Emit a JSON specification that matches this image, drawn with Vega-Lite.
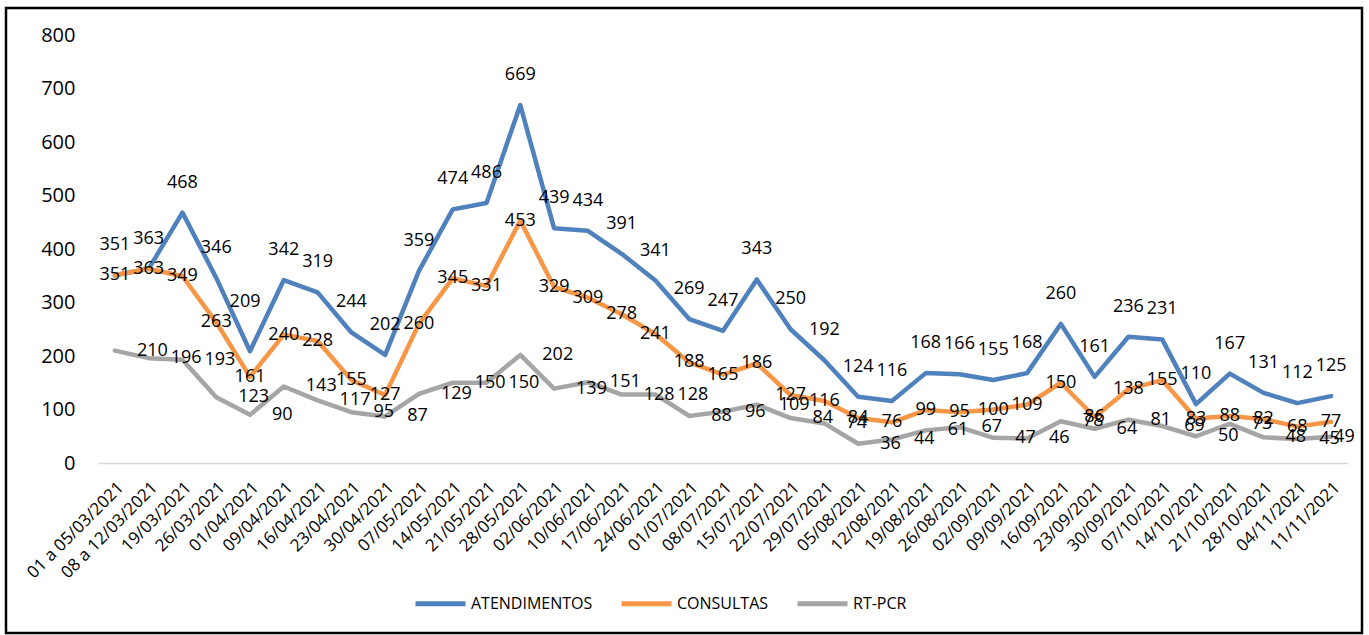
{
  "$schema": "https://vega.github.io/schema/vega-lite/v6.json",
  "autosize": "none",
  "padding": {"left": 6, "top": 8, "right": 7, "bottom": 2},
  "width": 1356,
  "height": 625,
  "background": "white",
  "config": {
    "font": "Open Sans",
    "view": {"stroke": "#000000", "strokeWidth": 2.5},
    "axis": {"grid": false}
  },
  "data": {
    "values": [
      {"d": "01 a 05/03/2021", "s": "ATENDIMENTOS", "v": 351},
      {"d": "08 a 12/03/2021", "s": "ATENDIMENTOS", "v": 363},
      {"d": "19/03/2021", "s": "ATENDIMENTOS", "v": 468},
      {"d": "26/03/2021", "s": "ATENDIMENTOS", "v": 346},
      {"d": "01/04/2021", "s": "ATENDIMENTOS", "v": 209},
      {"d": "09/04/2021", "s": "ATENDIMENTOS", "v": 342},
      {"d": "16/04/2021", "s": "ATENDIMENTOS", "v": 319},
      {"d": "23/04/2021", "s": "ATENDIMENTOS", "v": 244},
      {"d": "30/04/2021", "s": "ATENDIMENTOS", "v": 202},
      {"d": "07/05/2021", "s": "ATENDIMENTOS", "v": 359},
      {"d": "14/05/2021", "s": "ATENDIMENTOS", "v": 474},
      {"d": "21/05/2021", "s": "ATENDIMENTOS", "v": 486},
      {"d": "28/05/2021", "s": "ATENDIMENTOS", "v": 669},
      {"d": "02/06/2021", "s": "ATENDIMENTOS", "v": 439},
      {"d": "10/06/2021", "s": "ATENDIMENTOS", "v": 434},
      {"d": "17/06/2021", "s": "ATENDIMENTOS", "v": 391},
      {"d": "24/06/2021", "s": "ATENDIMENTOS", "v": 341},
      {"d": "01/07/2021", "s": "ATENDIMENTOS", "v": 269},
      {"d": "08/07/2021", "s": "ATENDIMENTOS", "v": 247},
      {"d": "15/07/2021", "s": "ATENDIMENTOS", "v": 343},
      {"d": "22/07/2021", "s": "ATENDIMENTOS", "v": 250},
      {"d": "29/07/2021", "s": "ATENDIMENTOS", "v": 192},
      {"d": "05/08/2021", "s": "ATENDIMENTOS", "v": 124},
      {"d": "12/08/2021", "s": "ATENDIMENTOS", "v": 116},
      {"d": "19/08/2021", "s": "ATENDIMENTOS", "v": 168},
      {"d": "26/08/2021", "s": "ATENDIMENTOS", "v": 166},
      {"d": "02/09/2021", "s": "ATENDIMENTOS", "v": 155},
      {"d": "09/09/2021", "s": "ATENDIMENTOS", "v": 168},
      {"d": "16/09/2021", "s": "ATENDIMENTOS", "v": 260},
      {"d": "23/09/2021", "s": "ATENDIMENTOS", "v": 161},
      {"d": "30/09/2021", "s": "ATENDIMENTOS", "v": 236},
      {"d": "07/10/2021", "s": "ATENDIMENTOS", "v": 231},
      {"d": "14/10/2021", "s": "ATENDIMENTOS", "v": 110},
      {"d": "21/10/2021", "s": "ATENDIMENTOS", "v": 167},
      {"d": "28/10/2021", "s": "ATENDIMENTOS", "v": 131},
      {"d": "04/11/2021", "s": "ATENDIMENTOS", "v": 112},
      {"d": "11/11/2021", "s": "ATENDIMENTOS", "v": 125},
      {"d": "01 a 05/03/2021", "s": "CONSULTAS", "v": 351},
      {"d": "08 a 12/03/2021", "s": "CONSULTAS", "v": 363},
      {"d": "19/03/2021", "s": "CONSULTAS", "v": 349},
      {"d": "26/03/2021", "s": "CONSULTAS", "v": 263},
      {"d": "01/04/2021", "s": "CONSULTAS", "v": 161},
      {"d": "09/04/2021", "s": "CONSULTAS", "v": 240},
      {"d": "16/04/2021", "s": "CONSULTAS", "v": 228},
      {"d": "23/04/2021", "s": "CONSULTAS", "v": 155},
      {"d": "30/04/2021", "s": "CONSULTAS", "v": 127},
      {"d": "07/05/2021", "s": "CONSULTAS", "v": 260},
      {"d": "14/05/2021", "s": "CONSULTAS", "v": 345},
      {"d": "21/05/2021", "s": "CONSULTAS", "v": 331},
      {"d": "28/05/2021", "s": "CONSULTAS", "v": 453},
      {"d": "02/06/2021", "s": "CONSULTAS", "v": 329},
      {"d": "10/06/2021", "s": "CONSULTAS", "v": 309},
      {"d": "17/06/2021", "s": "CONSULTAS", "v": 278},
      {"d": "24/06/2021", "s": "CONSULTAS", "v": 241},
      {"d": "01/07/2021", "s": "CONSULTAS", "v": 188},
      {"d": "08/07/2021", "s": "CONSULTAS", "v": 165},
      {"d": "15/07/2021", "s": "CONSULTAS", "v": 186},
      {"d": "22/07/2021", "s": "CONSULTAS", "v": 127},
      {"d": "29/07/2021", "s": "CONSULTAS", "v": 116},
      {"d": "05/08/2021", "s": "CONSULTAS", "v": 84},
      {"d": "12/08/2021", "s": "CONSULTAS", "v": 76},
      {"d": "19/08/2021", "s": "CONSULTAS", "v": 99},
      {"d": "26/08/2021", "s": "CONSULTAS", "v": 95},
      {"d": "02/09/2021", "s": "CONSULTAS", "v": 100},
      {"d": "09/09/2021", "s": "CONSULTAS", "v": 109},
      {"d": "16/09/2021", "s": "CONSULTAS", "v": 150},
      {"d": "23/09/2021", "s": "CONSULTAS", "v": 86},
      {"d": "30/09/2021", "s": "CONSULTAS", "v": 138},
      {"d": "07/10/2021", "s": "CONSULTAS", "v": 155},
      {"d": "14/10/2021", "s": "CONSULTAS", "v": 83},
      {"d": "21/10/2021", "s": "CONSULTAS", "v": 88},
      {"d": "28/10/2021", "s": "CONSULTAS", "v": 82},
      {"d": "04/11/2021", "s": "CONSULTAS", "v": 68},
      {"d": "11/11/2021", "s": "CONSULTAS", "v": 77},
      {"d": "01 a 05/03/2021", "s": "RT-PCR", "v": 210},
      {"d": "08 a 12/03/2021", "s": "RT-PCR", "v": 196},
      {"d": "19/03/2021", "s": "RT-PCR", "v": 193},
      {"d": "26/03/2021", "s": "RT-PCR", "v": 123},
      {"d": "01/04/2021", "s": "RT-PCR", "v": 90},
      {"d": "09/04/2021", "s": "RT-PCR", "v": 143},
      {"d": "16/04/2021", "s": "RT-PCR", "v": 117},
      {"d": "23/04/2021", "s": "RT-PCR", "v": 95},
      {"d": "30/04/2021", "s": "RT-PCR", "v": 87},
      {"d": "07/05/2021", "s": "RT-PCR", "v": 129},
      {"d": "14/05/2021", "s": "RT-PCR", "v": 150},
      {"d": "21/05/2021", "s": "RT-PCR", "v": 150},
      {"d": "28/05/2021", "s": "RT-PCR", "v": 202},
      {"d": "02/06/2021", "s": "RT-PCR", "v": 139},
      {"d": "10/06/2021", "s": "RT-PCR", "v": 151},
      {"d": "17/06/2021", "s": "RT-PCR", "v": 128},
      {"d": "24/06/2021", "s": "RT-PCR", "v": 128},
      {"d": "01/07/2021", "s": "RT-PCR", "v": 88},
      {"d": "08/07/2021", "s": "RT-PCR", "v": 96},
      {"d": "15/07/2021", "s": "RT-PCR", "v": 109},
      {"d": "22/07/2021", "s": "RT-PCR", "v": 84},
      {"d": "29/07/2021", "s": "RT-PCR", "v": 74},
      {"d": "05/08/2021", "s": "RT-PCR", "v": 36},
      {"d": "12/08/2021", "s": "RT-PCR", "v": 44},
      {"d": "19/08/2021", "s": "RT-PCR", "v": 61},
      {"d": "26/08/2021", "s": "RT-PCR", "v": 67},
      {"d": "02/09/2021", "s": "RT-PCR", "v": 47},
      {"d": "09/09/2021", "s": "RT-PCR", "v": 46},
      {"d": "16/09/2021", "s": "RT-PCR", "v": 78},
      {"d": "23/09/2021", "s": "RT-PCR", "v": 64},
      {"d": "30/09/2021", "s": "RT-PCR", "v": 81},
      {"d": "07/10/2021", "s": "RT-PCR", "v": 69},
      {"d": "14/10/2021", "s": "RT-PCR", "v": 50},
      {"d": "21/10/2021", "s": "RT-PCR", "v": 73},
      {"d": "28/10/2021", "s": "RT-PCR", "v": 48},
      {"d": "04/11/2021", "s": "RT-PCR", "v": 45},
      {"d": "11/11/2021", "s": "RT-PCR", "v": 49}
    ]
  },
  "encoding": {
    "x": {
      "field": "d",
      "type": "ordinal",
      "sort": null,
      "scale": {"type": "point", "range": [92, 1342], "padding": 0.5},
      "axis": {
        "title": null,
        "labelAngle": -45,
        "labelFontSize": 17,
        "labelColor": "#000000",
        "labelPadding": 16,
        "labelOverlap": false,
        "ticks": false,
        "domainColor": "#d9d9d9",
        "domainWidth": 1.5,
        "offset": -170
      }
    },
    "y": {
      "field": "v",
      "type": "quantitative",
      "scale": {"domain": [0, 800], "range": [455, 27], "nice": false},
      "axis": {
        "title": null,
        "values": [0, 100, 200, 300, 400, 500, 600, 700, 800],
        "domain": false,
        "ticks": false,
        "tickSize": 0,
        "labelPadding": 0,
        "offset": -69,
        "labelFontSize": 20,
        "labelColor": "#000000"
      }
    }
  },
  "layer": [
    {
      "mark": {"type": "line", "strokeWidth": 4.5, "strokeJoin": "round", "strokeCap": "round"},
      "encoding": {
        "color": {
          "field": "s",
          "type": "nominal",
          "scale": {"domain": ["ATENDIMENTOS", "CONSULTAS", "RT-PCR"], "range": ["#4F81BD", "#F79646", "#A5A5A5"]},
          "legend": {
            "title": null,
            "orient": "none",
            "legendX": 407,
            "legendY": 568,
            "direction": "horizontal",
            "symbolType": "stroke",
            "symbolSize": 2500,
            "symbolStrokeWidth": 5,
            "labelFontSize": 16,
            "labelColor": "#000000",
            "columnPadding": 18,
            "labelOffset": 3
          }
        }
      }
    },
    {
      "transform": [{"filter": {"not": {"and": [{"field": "s", "equal": "ATENDIMENTOS"}, {"field": "d", "equal": "01/04/2021"}]}}}, {"filter": {"field": "s", "equal": "ATENDIMENTOS"}}],
      "mark": {"type": "text", "dy": -30, "fontSize": 18, "color": "#000000"},
      "encoding": {"text": {"field": "v", "type": "quantitative"}}
    },
    {
      "transform": [{"filter": {"and": [{"field": "s", "equal": "ATENDIMENTOS"}, {"field": "d", "equal": "01/04/2021"}]}}],
      "mark": {"type": "text", "dy": -49, "dx": -5, "fontSize": 18, "color": "#000000"},
      "encoding": {"text": {"field": "v", "type": "quantitative"}}
    },
    {
      "transform": [{"filter": {"field": "s", "equal": "CONSULTAS"}}],
      "mark": {"type": "text", "fontSize": 18, "color": "#000000"},
      "encoding": {"text": {"field": "v", "type": "quantitative"}}
    },
    {
      "transform": [{"filter": {"field": "s", "equal": "RT-PCR"}}, {"filter": {"not": {"field": "d", "equal": "11/11/2021"}}}],
      "mark": {"type": "text", "align": "left", "dx": 22, "fontSize": 18, "color": "#000000"},
      "encoding": {"text": {"field": "v", "type": "quantitative"}}
    },
    {
      "transform": [{"filter": {"and": [{"field": "s", "equal": "RT-PCR"}, {"field": "d", "equal": "11/11/2021"}]}}],
      "mark": {"type": "text", "align": "left", "dx": 3, "fontSize": 18, "color": "#000000"},
      "encoding": {"text": {"field": "v", "type": "quantitative"}}
    }
  ]
}
